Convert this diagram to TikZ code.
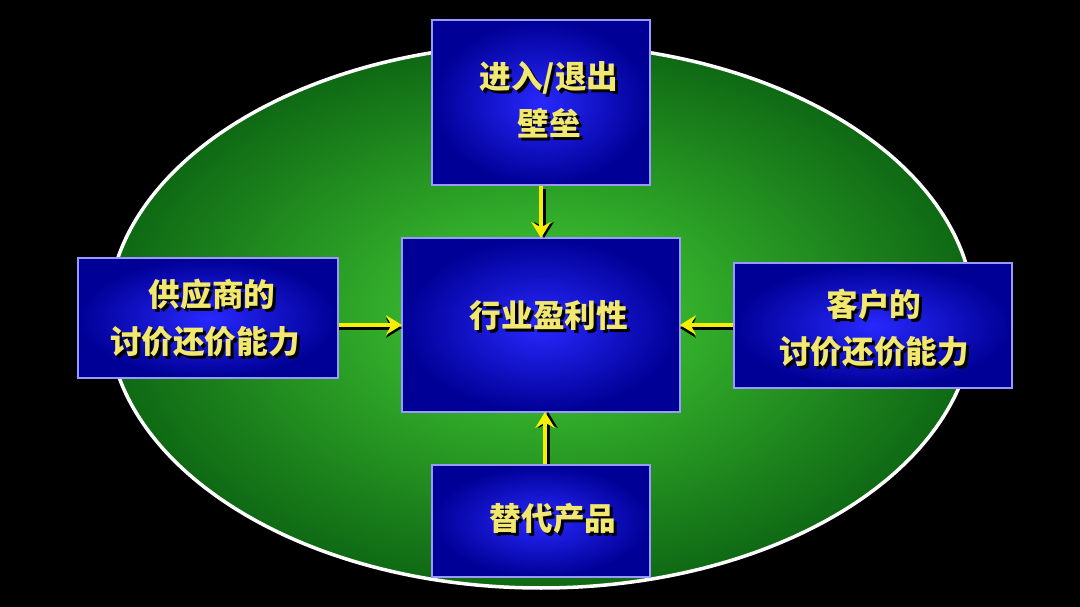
\documentclass[tikz,border=0pt]{standalone}
\usepackage{fontspec}
\newfontfamily\cjk{Noto Sans CJK SC}
\usetikzlibrary{arrows.meta}
\definecolor{ytxt}{HTML}{F2E870}
\definecolor{yarr}{HTML}{F5F000}
\begin{document}
\begin{tikzpicture}[x=0.02cm,y=-0.02cm,
  box/.style={inner color={rgb,255:red,40;green,40;blue,255},outer color={rgb,255:red,0;green,0;blue,150}},
  edge/.style={draw=blue!40!white,line width=0.8pt},
  lbl/.style={text=ytxt,font=\cjk\fontsize{18}{27}\selectfont\bfseries,align=center},
  shd/.style={text=black,font=\cjk\fontsize{18}{27}\selectfont\bfseries,align=center},
  arr/.style={draw=yarr,line width=2.6pt,-{Stealth[length=9pt,width=11pt]}},
  arrs/.style={draw=black,line width=2.6pt,-{Stealth[length=9pt,width=11pt]}}]
\fill[black] (0,0) rectangle (1080,607);
\useasboundingbox (0,0) rectangle (1080,607);
\shade[inner color={rgb,255:red,70;green,210;blue,55},outer color={rgb,255:red,15;green,105;blue,20}] (541,316) ellipse [x radius=433,y radius=272];
\draw[white,line width=2pt] (541,316) ellipse [x radius=433,y radius=272];
% boxes
\shade[box] (432,20) rectangle (650,185);
\draw[edge] (432,20) rectangle (650,185);
\shade[box] (402,238) rectangle (680,412);
\draw[edge] (402,238) rectangle (680,412);
\shade[box] (78,258) rectangle (338,378);
\draw[edge] (78,258) rectangle (338,378);
\shade[box] (734,263) rectangle (1012,388);
\draw[edge] (734,263) rectangle (1012,388);
\shade[box] (432,465) rectangle (650,577);
\draw[edge] (432,465) rectangle (650,577);
\coordinate (ts) at (541,186); \coordinate (te) at (541,238);
\coordinate (ls) at (339,325); \coordinate (le) at (402,325);
\coordinate (rs) at (733,325); \coordinate (re) at (680,325);
\coordinate (bs) at (545,464); \coordinate (be) at (545,412);
% arrow shadows
\draw[arrs] ([shift={(3,3)}]ts) -- ([shift={(3,0)}]te);
\draw[arrs] ([shift={(0,3)}]ls) -- ([shift={(0,3)}]le);
\draw[arrs] ([shift={(0,3)}]rs) -- ([shift={(0,3)}]re);
\draw[arrs] ([shift={(3,0)}]bs) -- ([shift={(3,0)}]be);
\draw[arr] (ts) -- (te); \draw[arr] (ls) -- (le);
\draw[arr] (rs) -- (re); \draw[arr] (bs) -- (be);
% texts
\node[shd] at (552,103) {进入/退出\\壁垒};
\node[lbl] (top) at (549,100) {进入/退出\\壁垒};
\node[shd] at (552,318) {行业盈利性};
\node[lbl] (mid) at (549,315) {行业盈利性};
\node[shd] at (208,321) {\ \ 供应商的\\讨价还价能力};
\node[lbl] (left) at (205,318) {\ \ 供应商的\\讨价还价能力};
\node[shd] at (877,331) {客户的\\讨价还价能力};
\node[lbl] (right) at (874,328) {客户的\\讨价还价能力};
\node[shd] at (556,522) {替代产品};
\node[lbl] (bot) at (553,519) {替代产品};
\end{tikzpicture}
\end{document}
